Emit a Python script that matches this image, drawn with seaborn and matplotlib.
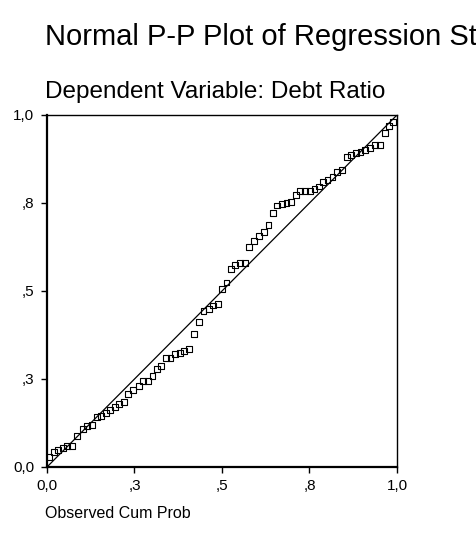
import matplotlib
matplotlib.use("Agg")
import matplotlib.pyplot as plt
import seaborn as sns
import pandas as pd
from matplotlib.ticker import FixedLocator, FixedFormatter

# Data
obs_cum_prob = [0.0066, 0.0200, 0.0323, 0.0449, 0.0580, 0.0723, 0.0849, 0.1020, 0.1143, 0.1277,
                0.1420, 0.1543, 0.1686, 0.1809, 0.1943, 0.2066, 0.2191, 0.2323, 0.2457, 0.2620,
                0.2751, 0.2886, 0.3014, 0.3134, 0.3266, 0.3391, 0.3529, 0.3657, 0.3794, 0.3920,
                0.4051, 0.4209, 0.4349, 0.4471, 0.4620, 0.4749, 0.4880, 0.5000, 0.5129, 0.5249,
                0.5377, 0.5509, 0.5646, 0.5777, 0.5920, 0.6060, 0.6200, 0.6329, 0.6457, 0.6583,
                0.6714, 0.6843, 0.6977, 0.7103, 0.7237, 0.7377, 0.7514, 0.7643, 0.7771, 0.7894,
                0.8014, 0.8157, 0.8286, 0.8437, 0.8563, 0.8680, 0.8820, 0.8957, 0.9094, 0.9237,
                0.9377, 0.9523, 0.9657, 0.9777, 0.9891]
exp_cum_prob = [0.0293, 0.0418, 0.0491, 0.0548, 0.0597, 0.0597, 0.0889, 0.1080, 0.1165, 0.1202,
                0.1412, 0.1457, 0.1543, 0.1620, 0.1696, 0.1798, 0.1847, 0.2065, 0.2188, 0.2310,
                0.2452, 0.2452, 0.2580, 0.2793, 0.2878, 0.3088, 0.3088, 0.3222, 0.3230, 0.3301,
                0.3347, 0.3773, 0.4114, 0.4423, 0.4497, 0.4588, 0.4642, 0.5057, 0.5241, 0.5634,
                0.5727, 0.5795, 0.5795, 0.6241, 0.6409, 0.6557, 0.6688, 0.6886, 0.7224, 0.7429,
                0.7483, 0.7491, 0.7540, 0.7739, 0.7832, 0.7841, 0.7841, 0.7903, 0.7969, 0.8094,
                0.8153, 0.8250, 0.8369, 0.8432, 0.8813, 0.8864, 0.8915, 0.8960, 0.9000, 0.9057,
                0.9139, 0.9139, 0.9497, 0.9682, 0.9793]

tick_values = [0.0, 0.25, 0.5, 0.75, 1.0]
tick_labels = ["0,0", ",3", ",5", ",8", "1,0"]

title_text = "Normal P-P Plot of Regression Standardized Residual"
subtitle_text = "Dependent Variable: Debt Ratio"
xlabel_text = "Observed Cum Prob"

df = pd.DataFrame({"obs": obs_cum_prob, "exp": exp_cum_prob})

sns.set_style("ticks")
plt.rcParams["font.family"] = ["Liberation Sans", "DejaVu Sans"]

W, H = 477, 546
fig = plt.figure(figsize=(W / 100, H / 100), dpi=100)
ax = fig.add_axes([47 / W, (H - 467) / H, 350 / W, 352 / H])

ax.plot([0, 1], [0, 1], color="black", linewidth=0.9, zorder=2)
sns.scatterplot(data=df, x="obs", y="exp", ax=ax, marker="s", s=18,
                facecolor="none", edgecolor="black", linewidth=0.8, zorder=3)

ax.set_xlim(0, 1)
ax.set_ylim(0, 1)
ax.xaxis.set_major_locator(FixedLocator(tick_values))
ax.xaxis.set_major_formatter(FixedFormatter(tick_labels))
ax.yaxis.set_major_locator(FixedLocator(tick_values))
ax.yaxis.set_major_formatter(FixedFormatter(tick_labels))
ax.set_xlabel("")
ax.set_ylabel("")
ax.tick_params(axis="both", direction="out", length=4, width=1, colors="black",
               labelsize=11, pad=5)

for side in ["left", "bottom"]:
    ax.spines[side].set_linewidth(1.6)
for side in ["top", "right"]:
    ax.spines[side].set_linewidth(1.0)
for sp in ax.spines.values():
    sp.set_color("black")
    sp.set_visible(True)

fig.text(45 / W, 1 - 45 / H, title_text, fontsize=21, ha="left", va="baseline", color="black")
fig.text(45 / W, 1 - 98 / H, subtitle_text, fontsize=17.5, ha="left", va="baseline", color="black")
fig.text(45 / W, 1 - 518 / H, xlabel_text, fontsize=11.5, ha="left", va="baseline", color="black")

fig.savefig("out.png", dpi=100)
